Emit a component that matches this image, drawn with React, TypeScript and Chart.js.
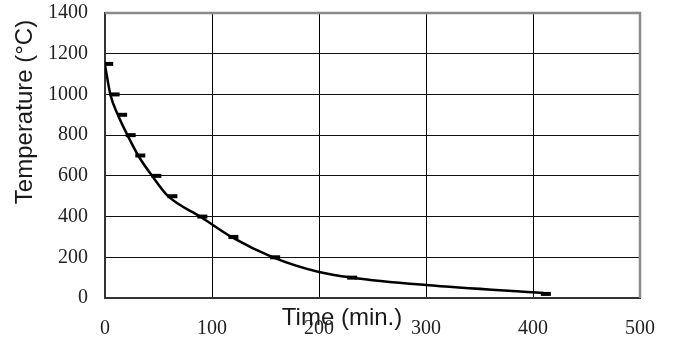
import React, { useEffect, useRef } from "react";
import { Chart, registerables } from "chart.js";

Chart.register(...registerables);

// Measured cooling points (time in minutes, temperature in °C)
const markerTimes = [3, 9, 16, 24, 33, 48, 63, 91, 120, 159, 231, 412];
const markerTemps = [1150, 1000, 900, 800, 700, 600, 500, 400, 300, 200, 100, 20];

// Smoothed cooling curve
const curveTimes = [0, 5, 12, 21, 31, 44, 59, 89, 118, 157, 200, 231, 300, 410];
const curveTemps = [1145, 1000, 900, 800, 700, 600, 500, 400, 300, 200, 128, 100, 64, 25];

const xMin = 0;
const xMax = 500;
const xStep = 100;
const yMin = 0;
const yMax = 1400;
const yStep = 200;

const xTitle = "Time (min.)";
const yTitle = "Temperature (°C)";

const tickFont = { family: "'Liberation Serif', 'DejaVu Serif', serif", size: 20 };

export default function App() {
  const canvasRef = useRef<HTMLCanvasElement>(null);

  useEffect(() => {
    document.body.style.margin = "0";
    const canvas = canvasRef.current;
    if (!canvas) return;

    const framePlugin = {
      id: "frame",
      beforeDatasetsDraw(chart: any) {
        const { ctx, chartArea } = chart;
        ctx.save();
        ctx.strokeStyle = "#8a8a8a";
        ctx.lineWidth = 2.5;
        ctx.beginPath();
        ctx.moveTo(chartArea.left, chartArea.top);
        ctx.lineTo(chartArea.right, chartArea.top);
        ctx.lineTo(chartArea.right, chartArea.bottom);
        ctx.stroke();
        ctx.restore();
      },
    };

    const axisTitlePlugin = {
      id: "axisTitles",
      afterDraw(chart: any) {
        const { ctx } = chart;
        ctx.save();
        ctx.fillStyle = "#1a1a1a";
        ctx.font = "24px 'Liberation Sans', Arial, sans-serif";
        ctx.textAlign = "center";
        ctx.textBaseline = "alphabetic";
        ctx.fillText(xTitle, 342, 325);
        ctx.translate(32, 112);
        ctx.rotate(-Math.PI / 2);
        ctx.fillText(yTitle, 0, 0);
        ctx.restore();
      },
    };

    const plainLabel = (v: any) => String(v);

    const chart = new Chart(canvas, {
      type: "scatter",
      data: {
        datasets: [
          {
            label: "curve",
            data: curveTimes.map((t, i) => ({ x: t, y: curveTemps[i] })),
            showLine: true,
            borderColor: "#000",
            borderWidth: 2.5,
            pointRadius: 0,
            cubicInterpolationMode: "monotone",
            order: 2,
          },
          {
            label: "measured",
            data: markerTimes.map((t, i) => ({ x: t, y: markerTemps[i] })),
            showLine: false,
            pointStyle: "line",
            pointRadius: 5,
            pointBorderWidth: 4,
            borderColor: "#000",
            backgroundColor: "#000",
            order: 1,
          },
        ],
      },
      options: {
        responsive: false,
        animation: false,
        devicePixelRatio: 1,
        layout: { padding: { top: 13, right: 33, left: 0, bottom: 0 } },
        plugins: {
          legend: { display: false },
          tooltip: { enabled: false },
        },
        scales: {
          x: {
            type: "linear",
            min: xMin,
            max: xMax,
            ticks: {
              stepSize: xStep,
              font: tickFont,
              color: "#222",
              padding: 19,
              maxRotation: 0,
              callback: plainLabel,
            },
            grid: {
              drawTicks: false,
              lineWidth: 1,
              color: (c: any) =>
                c.tick && (c.tick.value === xMin || c.tick.value === xMax) ? "rgba(0,0,0,0)" : "#000",
            },
            border: { color: "#333", width: 2 },
            afterFit: (scale: any) => {
              scale.height = 41;
              scale.paddingLeft = 0;
              scale.paddingRight = 0;
            },
          },
          y: {
            type: "linear",
            min: yMin,
            max: yMax,
            ticks: {
              stepSize: yStep,
              font: tickFont,
              color: "#222",
              padding: 17,
              callback: plainLabel,
            },
            grid: {
              drawTicks: false,
              lineWidth: 1,
              color: (c: any) =>
                c.tick && (c.tick.value === yMin || c.tick.value === yMax) ? "rgba(0,0,0,0)" : "#111",
            },
            border: { color: "#333", width: 2 },
            afterFit: (scale: any) => {
              scale.width = 105;
              scale.paddingTop = 0;
              scale.paddingBottom = 0;
            },
          },
        },
      },
      plugins: [framePlugin, axisTitlePlugin],
    });

    return () => chart.destroy();
  }, []);

  return <canvas ref={canvasRef} width={673} height={339} style={{ display: "block" }} />;
}
